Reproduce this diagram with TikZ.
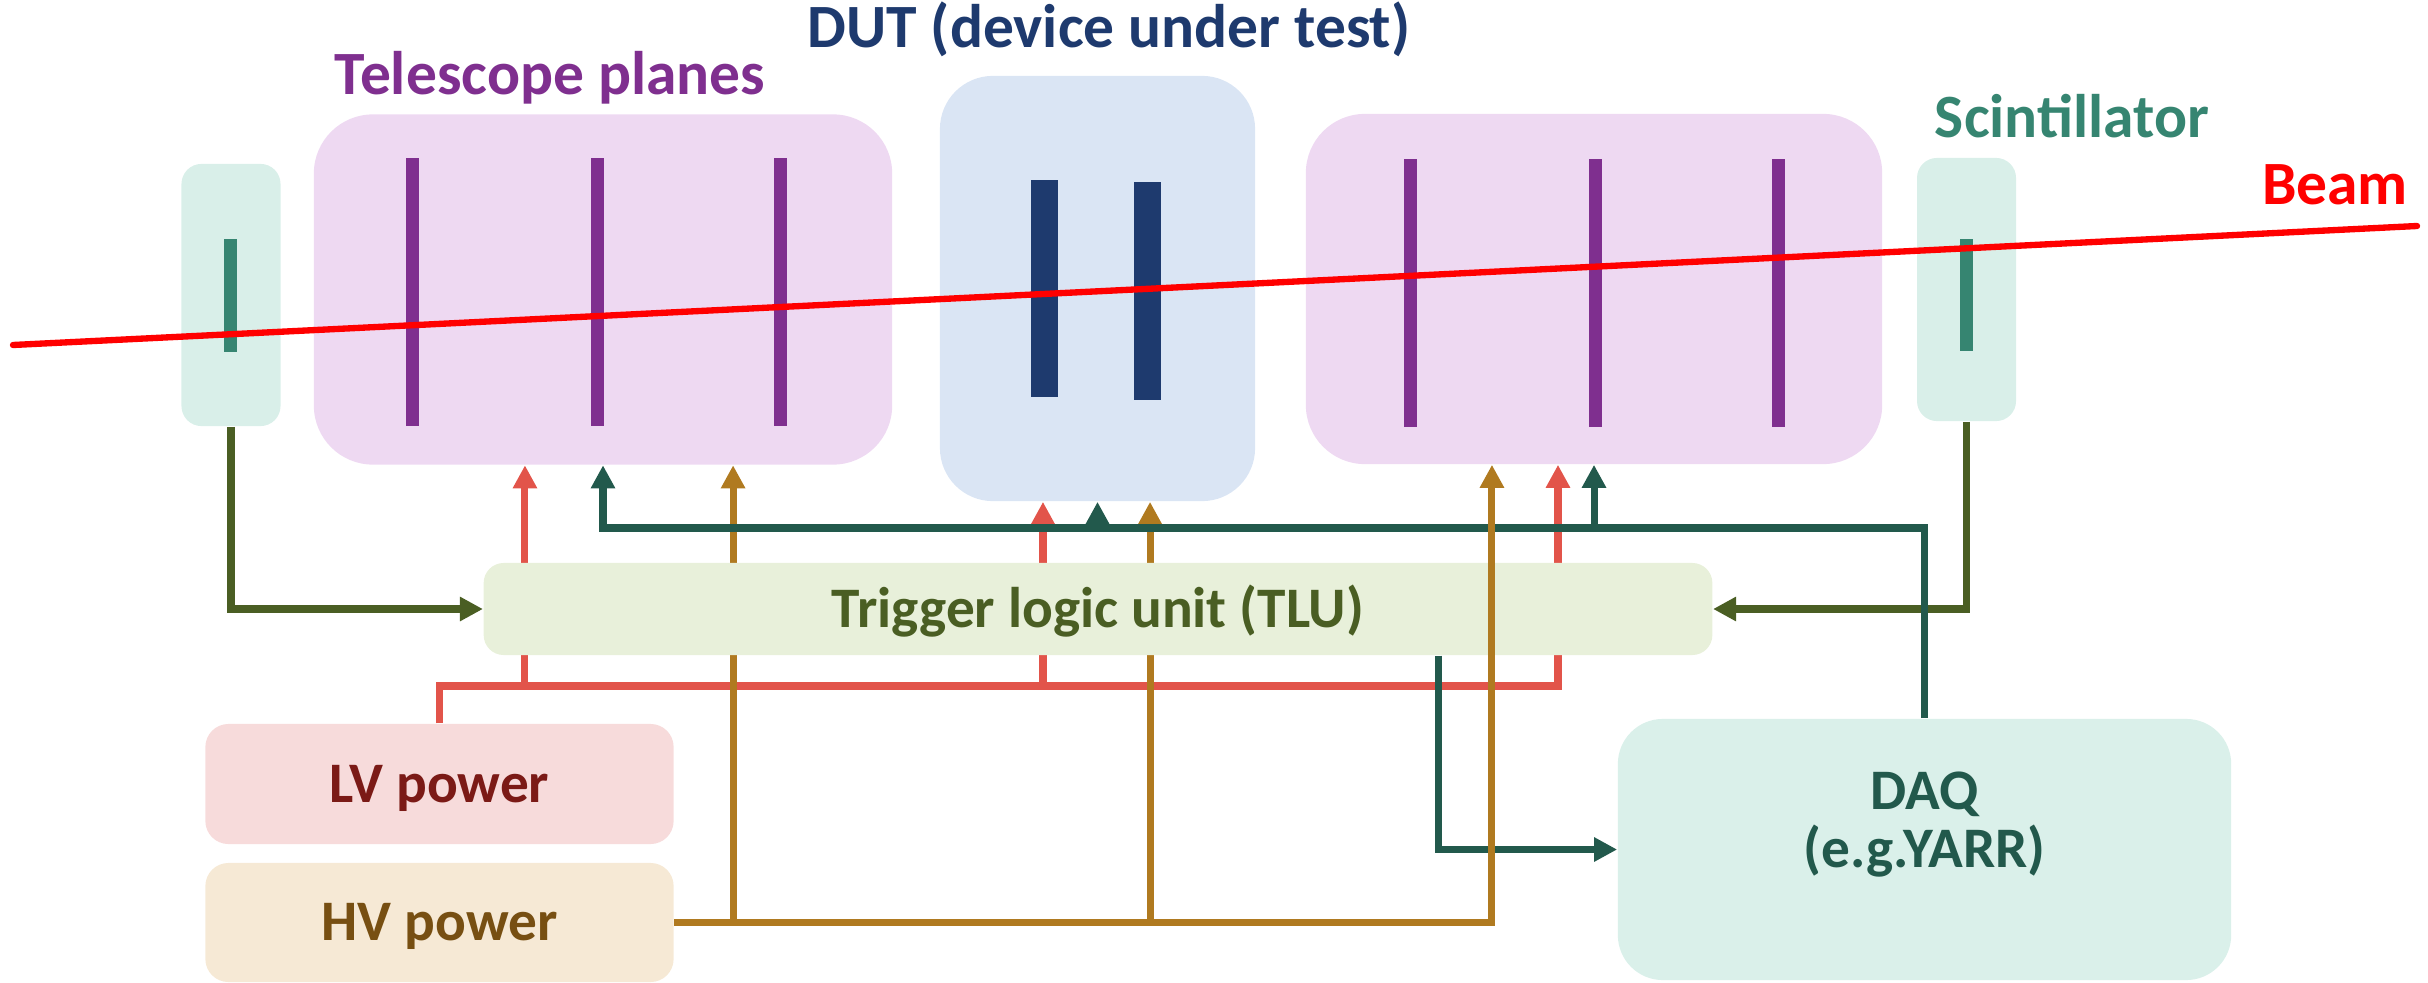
\documentclass[tikz,border=0pt]{standalone}
\usepackage{fontspec}
\setmainfont{Carlito}
\usetikzlibrary{arrows.meta}

\definecolor{telfill}{HTML}{EED9F2}
\definecolor{planecol}{HTML}{7F2F8F}
\definecolor{dutfill}{HTML}{DAE5F4}
\definecolor{dutcol}{HTML}{1E3A6E}
\definecolor{scifill}{HTML}{D9EFE9}
\definecolor{scicol}{HTML}{368571}
\definecolor{tlufill}{HTML}{E8F0DA}
\definecolor{tlucol}{HTML}{4A5E23}
\definecolor{lvfill}{HTML}{F7DBDB}
\definecolor{lvtext}{HTML}{7B1A16}
\definecolor{lvline}{HTML}{E2544A}
\definecolor{hvfill}{HTML}{F6E9D5}
\definecolor{hvtext}{HTML}{774F12}
\definecolor{hvline}{HTML}{B07A20}
\definecolor{daqfill}{HTML}{DAF0EA}
\definecolor{daqcol}{HTML}{22594C}

\tikzset{
    pics/bar/.style n args={3}{
      code={
        \fill[#3] (-#1/2,-#2/2) rectangle (#1/2,#2/2);
      }
    }
  }
\tikzset{
    unit/.style={rounded corners=#1, draw=none, inner sep=0pt,
      font=\fontsize{16.3}{16.5}\selectfont\bfseries,
      text height=10.4pt, text depth=0pt},
    lbl/.style={text=#1, anchor=base, inner sep=0pt,
      font=\fontsize{17.5}{20}\selectfont\bfseries},
    wire/.style={draw=#1, line width=2pt},
    into/.style={-{Triangle[length=0.23cm,width=0.23cm]}},
    beam/.style={draw=red, line width=1.8pt, line cap=round}
  }

\begin{document}
\begin{tikzpicture}[x=0.01cm, y=-0.01cm]
    \useasboundingbox (0,0) rectangle (2428,982);

    \node[unit=0.2cm, fill=scifill, minimum width=0.99cm, minimum height=2.62cm] (sciL) at (231,295) {};
    \node[unit=0.59cm, fill=telfill, minimum width=5.78cm, minimum height=3.50cm] (telL) at (603,289.5) {};
    \node[unit=0.53cm, fill=dutfill, minimum width=3.15cm, minimum height=4.25cm] (dut) at (1097.5,288.5) {};
    \node[unit=0.59cm, fill=telfill, minimum width=5.76cm, minimum height=3.50cm] (telR) at (1594,289) {};
    \node[unit=0.2cm, fill=scifill, minimum width=0.99cm, minimum height=2.63cm] (sciR) at (1966.5,289.5) {};

    \draw (412,292) pic{bar={13}{268}{planecol}};
    \draw (597,292) pic{bar={13}{268}{planecol}};
    \draw (780,292) pic{bar={13}{268}{planecol}};
    \draw (1410,293) pic{bar={13}{268}{planecol}};
    \draw (1595,293) pic{bar={13}{268}{planecol}};
    \draw (1778,293) pic{bar={13}{268}{planecol}};
    \draw (1044.5,288.5) pic{bar={27}{217}{dutcol}};
    \draw (1147.5,291) pic{bar={27}{218}{dutcol}};
    \draw (230.5,295.5) pic{bar={13}{113}{scicol}};
    \draw (1966.5,295) pic{bar={13}{112}{scicol}};

    \draw[beam] (13,345) -- (2417,226);

    \node[unit=0.23cm, fill=lvfill, text=lvtext, minimum width=4.68cm, minimum height=1.20cm] (lv) at (439.5,784) {LV power};
    \node[unit=0.23cm, fill=hvfill, text=hvtext, minimum width=4.68cm, minimum height=1.19cm] (hv) at (439.5,922.5) {HV power};
    \node[unit=0.45cm, fill=daqfill, text=daqcol, minimum width=6.13cm, minimum height=2.61cm, align=center] (daq) at (1924.5,849.5) {DAQ\\(e.g.YARR)};

    \coordinate (lvbus) at (0,686);
    \coordinate (trgbus) at (0,528);
    \coordinate (lvTelL) at ([xshift=-0.78cm]telL.south);
    \coordinate (lvDut) at ([xshift=-0.545cm]dut.south);
    \coordinate (lvTelR) at ([xshift=-0.36cm]telR.south);
    \coordinate (hvTelL) at ([xshift=1.30cm]telL.south);
    \coordinate (hvDut) at ([xshift=0.525cm]dut.south);
    \coordinate (hvTelR) at ([xshift=-1.02cm]telR.south);

    \draw[wire=lvline, into] (lv.north) |- (lvTelR |- lvbus) -- (lvTelR);
    \draw[wire=lvline, into] (lvTelL |- lvbus) -- (lvTelL);
    \draw[wire=lvline, into] (lvDut |- lvbus) -- (lvDut);
    \draw[wire=hvline, into] (hvTelL |- hv.east) -- (hvTelL);
    \draw[wire=hvline, into] (hvDut |- hv.east) -- (hvDut);

    \node[unit=0.2cm, fill=tlufill, text=tlucol, minimum width=12.28cm, minimum height=0.92cm] (tlu) at (1098,609) {Trigger logic unit (TLU)};
    \coordinate (tluOut) at ([xshift=3.40cm]tlu.south);

    \draw[wire=tlucol, into] (sciL.south) |- (tlu.west);
    \draw[wire=tlucol, into] (sciR.south) |- (tlu.east);

    \draw[wire=daqcol, into] (daq.north) |- (telL.south |- trgbus) -- (telL.south);
    \draw[wire=daqcol, into] (dut.south |- trgbus) -- (dut.south);
    \draw[wire=daqcol, into] (telR.south |- trgbus) -- (telR.south);
    \draw[wire=daqcol, into] (tluOut) |- (daq.west);

    \draw[wire=hvline, into] (hv.east) -| (hvTelR);

    \node[lbl=dutcol] (dutlbl) at (1109,48) {DUT (device under test)};
    \node[lbl=planecol] (tellbl) at (550,95) {Telescope planes};
    \node[lbl=scicol] (scilbl) at (2072,138) {Scintillator};
    \node[lbl=red] (beamlbl) at (2335,204) {Beam};

  \end{tikzpicture}
\end{document}
